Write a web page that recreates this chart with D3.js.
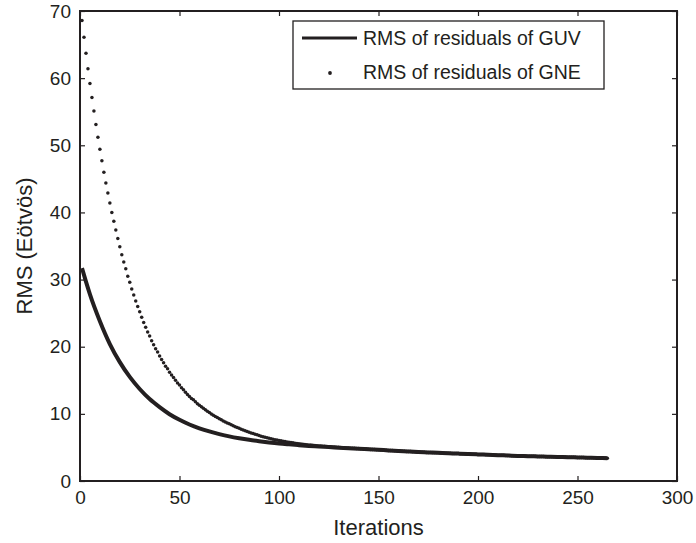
<!DOCTYPE html>
<html>
<head>
<meta charset="utf-8">
<script src="https://cdn.jsdelivr.net/npm/d3@7"></script>
<style>
  html, body { margin: 0; padding: 0; background: #fff; }
  svg { display: block; font-family: "Liberation Sans", Arial, Helvetica, sans-serif; }
</style>
</head>
<body>
<svg id="chart" width="696" height="543"></svg>
<script>
// ---- Data ----
const xTicks = [0, 50, 100, 150, 200, 250, 300];
const yTicks = [0, 10, 20, 30, 40, 50, 60, 70];
const seriesNames = ["RMS of residuals of GUV", "RMS of residuals of GNE"];
const xLabel = "Iterations";
const yLabel = "RMS (Eötvös)";

// GUV: solid line
const guvIter = [1, 2, 3, 5, 10, 15, 20, 25, 30, 35, 40, 45, 50, 55, 60, 65, 70, 75, 80, 85, 90, 95, 100,
  105, 110, 115, 120, 125, 130, 135, 140, 145, 150, 155, 160, 165, 170, 175, 180, 185, 190, 195, 200,
  205, 210, 215, 220, 225, 230, 235, 240, 245, 250, 255, 260, 265];
const guvRms = [31.7, 30.7, 29.7, 27.8, 23.8, 20.4, 17.7, 15.5, 13.7, 12.2, 11.0, 9.95, 9.12, 8.42, 7.85, 7.38, 6.99, 6.65, 6.37, 6.13, 5.93, 5.75, 5.59,
  5.46, 5.34, 5.23, 5.14, 5.05, 4.97, 4.89, 4.82, 4.73, 4.65, 4.56, 4.48, 4.40, 4.32, 4.26, 4.20, 4.13, 4.08, 4.02, 3.96,
  3.91, 3.85, 3.80, 3.74, 3.70, 3.66, 3.63, 3.59, 3.55, 3.51, 3.48, 3.44, 3.40];

// GNE: one dot per iteration, starting at iteration 1
const gneStart = 1;
const gneRms = [
  68.6, 66.1, 63.7, 61.4, 59.2, 57.1, 55.1, 53.1, 51.2, 49.4,
  47.7, 46.0, 44.4, 42.9, 41.4, 40.0, 38.7, 37.4, 36.1, 34.9,
  33.7, 32.6, 31.6, 30.5, 29.6, 28.6, 27.7, 26.8, 26.0, 25.2,
  24.4, 23.6, 22.9, 22.2, 21.6, 20.9, 20.3, 19.7, 19.2, 18.6,
  18.1, 17.6, 17.1, 16.7, 16.2, 15.8, 15.4, 15.0, 14.6, 14.3,
  13.9, 13.6, 13.2, 12.9, 12.6, 12.3, 12.1, 11.8, 11.5, 11.3,
  11.05, 10.82, 10.60, 10.39, 10.19, 9.99, 9.80, 9.62, 9.45, 9.28,
  9.11, 8.95, 8.80, 8.65, 8.51, 8.36, 8.23, 8.09, 7.96, 7.84,
  7.71, 7.60, 7.48, 7.37, 7.26, 7.16, 7.06, 6.96, 6.87, 6.78,
  6.68, 6.60, 6.52, 6.44, 6.36, 6.29, 6.22, 6.16, 6.09, 6.03,
  5.98, 5.92, 5.87, 5.82, 5.77, 5.73, 5.68, 5.64, 5.60, 5.56,
  5.51, 5.48, 5.44, 5.41, 5.38, 5.35, 5.32, 5.29, 5.26, 5.23,
  5.21, 5.18, 5.16, 5.14, 5.11, 5.09, 5.07, 5.05, 5.03, 5.01,
  4.98, 4.96, 4.94, 4.93, 4.91, 4.89, 4.88, 4.86, 4.84, 4.83,
  4.81, 4.79, 4.77, 4.75, 4.73, 4.71, 4.70, 4.68, 4.66, 4.65,
  4.62, 4.61, 4.59, 4.57, 4.56, 4.54, 4.53, 4.50, 4.49, 4.47,
  4.46, 4.44, 4.42, 4.41, 4.39, 4.38, 4.36, 4.35, 4.32, 4.31,
  4.29, 4.28, 4.27, 4.26, 4.24, 4.23, 4.22, 4.21, 4.20, 4.19,
  4.18, 4.17, 4.15, 4.14, 4.13, 4.12, 4.11, 4.10, 4.09, 4.08,
  4.06, 4.05, 4.04, 4.03, 4.02, 4.01, 4.00, 3.99, 3.97, 3.96,
  3.95, 3.94, 3.93, 3.92, 3.91, 3.90, 3.89, 3.87, 3.86, 3.85,
  3.84, 3.83, 3.82, 3.81, 3.80, 3.78, 3.77, 3.76, 3.75, 3.74,
  3.73, 3.73, 3.72, 3.71, 3.70, 3.70, 3.69, 3.68, 3.67, 3.66,
  3.66, 3.65, 3.64, 3.63, 3.63, 3.62, 3.61, 3.60, 3.60, 3.59,
  3.58, 3.57, 3.57, 3.56, 3.55, 3.54, 3.54, 3.53, 3.52, 3.51,
  3.51, 3.50, 3.49, 3.48, 3.48, 3.47, 3.46, 3.45, 3.45, 3.44,
  3.43, 3.42, 3.42, 3.41, 3.40
];

// ---- Layout ----
const ink = "#231f20";
const plot = { left: 80, right: 677, top: 11, bottom: 481 };
const svg = d3.select("#chart");

const x = d3.scaleLinear().domain([0, 300]).range([plot.left, plot.right]);
const y = d3.scaleLinear().domain([0, 70]).range([plot.bottom, plot.top]);

// Axes (ticks pointing inward)
const tickLen = 5;
const gx = svg.append("g").attr("transform", `translate(0,${plot.bottom})`)
  .call(d3.axisBottom(x).tickValues(xTicks).tickSizeInner(-tickLen).tickSizeOuter(0).tickPadding(10).tickFormat(d3.format("d")));
const gy = svg.append("g").attr("transform", `translate(${plot.left},0)`)
  .call(d3.axisLeft(y).tickValues(yTicks).tickSizeInner(-tickLen).tickSizeOuter(0).tickPadding(9).tickFormat(d3.format("d")));
const gxt = svg.append("g").attr("transform", `translate(0,${plot.top})`)
  .call(d3.axisTop(x).tickValues(xTicks).tickSizeInner(-tickLen).tickSizeOuter(0).tickFormat(""));
const gyr = svg.append("g").attr("transform", `translate(${plot.right},0)`)
  .call(d3.axisRight(y).tickValues(yTicks).tickSizeInner(-tickLen).tickSizeOuter(0).tickFormat(""));

[gx, gy, gxt, gyr].forEach(g => {
  g.select(".domain").remove();
  g.selectAll(".tick line").attr("stroke", ink).attr("stroke-width", 1.2);
  g.selectAll(".tick text").attr("fill", ink).style("font-size", "19px");
});

// frame
svg.append("rect")
  .attr("x", plot.left).attr("y", plot.top)
  .attr("width", plot.right - plot.left).attr("height", plot.bottom - plot.top)
  .attr("fill", "none").attr("stroke", ink).attr("stroke-width", 2);

// Axis labels
svg.append("text").attr("x", (plot.left + plot.right) / 2).attr("y", 535)
  .attr("text-anchor", "middle").attr("fill", ink).style("font-size", "22px").text(xLabel);
svg.append("text").attr("transform", `translate(32,${(plot.top + plot.bottom) / 2}) rotate(-90)`)
  .attr("text-anchor", "middle").attr("fill", ink).style("font-size", "22px").text(yLabel);

// GNE dots
const gneData = gneRms.map((v, i) => ({ it: gneStart + i, v }));
svg.append("g").selectAll("circle").data(gneData).join("circle")
  .attr("cx", d => x(d.it)).attr("cy", d => y(d.v)).attr("r", 1.75).attr("fill", ink);

// GUV line
const guvData = guvIter.map((it, i) => ({ it, v: guvRms[i] }));
svg.append("path").datum(guvData)
  .attr("d", d3.line().x(d => x(d.it)).y(d => y(d.v)).curve(d3.curveMonotoneX))
  .attr("fill", "none").attr("stroke", ink).attr("stroke-width", 4);

// Legend
const lg = svg.append("g");
lg.append("rect").attr("x", 293).attr("y", 21).attr("width", 311).attr("height", 68)
  .attr("fill", "#fff").attr("stroke", ink).attr("stroke-width", 1.3);
lg.append("line").attr("x1", 302).attr("x2", 357).attr("y1", 38).attr("y2", 38)
  .attr("stroke", ink).attr("stroke-width", 3);
lg.append("circle").attr("cx", 330).attr("cy", 73).attr("r", 1.9).attr("fill", ink);
lg.selectAll("text.leg").data(seriesNames).join("text").attr("class", "leg")
  .attr("x", 363).attr("y", (d, i) => 38 + i * 34).attr("dy", "0.35em")
  .attr("fill", ink).style("font-size", "19.5px").text(d => d);
</script>
</body>
</html>
